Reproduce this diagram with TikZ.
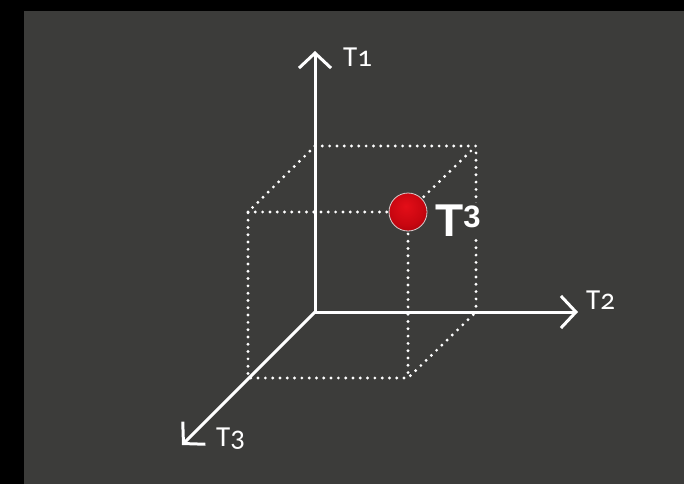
\documentclass[tikz,border=0pt]{standalone}
\usepackage{fontspec}
\setmainfont{Liberation Sans}
\newfontfamily\axisfont[Numbers=OldStyle]{Carlito}
\usetikzlibrary{arrows.meta}
\definecolor{bggray}{RGB}{60,60,58}
\definecolor{ballhi}{RGB}{228,14,24}
\definecolor{ballmid}{RGB}{200,6,16}
\definecolor{balllo}{RGB}{140,0,8}
\definecolor{ballrim}{RGB}{215,205,205}
\pgfdeclareradialshading{redball}{\pgfpoint{-3bp}{8bp}}{color(0bp)=(ballhi); color(22bp)=(ballmid); color(44bp)=(balllo); color(62bp)=(balllo)}
\begin{document}
\begin{tikzpicture}[x=1pt,y=-1pt,
  axisline/.style={white, line width=3pt, -{Straight Barb[length=15pt,width=32pt]}},
  guide/.style={white, line width=3.2pt, line cap=round, dash pattern=on 0pt off 7.3pt},
  axislabel/.style={text=white, font=\axisfont\fontsize{29}{29}\selectfont, anchor=base west, inner sep=0pt},
  ball/.style={circle, minimum size=38pt, inner sep=0pt, draw=ballrim, line width=0.8pt, shading=redball}]
\useasboundingbox (0,0) rectangle (684,484);
\fill[black] (0,0) rectangle (684,484);
\fill[bggray] (24,11) rectangle (684,484);
% coordinates
\coordinate (O) at (315,312);
\coordinate (t1) at (315,51);
\coordinate (t2) at (578,312);
\coordinate (t3) at (182,445);
\coordinate (A) at (315,146);
\coordinate (B) at (476,146);
\coordinate (C) at (476,312);
\coordinate (D) at (248,212);
\coordinate (P) at (408,212);
\coordinate (F) at (408,378);
\coordinate (G) at (248,378);
% dotted box
\draw[guide] (A) -- (B) -- (C);
\draw[guide] (A) -- (D) -- (G) -- (F) -- (C);
\draw[guide] (D) -- (P);
\draw[guide] (P) -- (B);
\draw[guide] (P) -- (F);
% axes
\draw[axisline] (O) -- (t1);
\draw[axisline] (O) -- (t2);
\draw[axisline] (O) -- (t3);
% point
\node[ball] (E) at (P) {};
\node[anchor=base west, inner sep=1pt, fill=bggray, text=white, font=\bfseries\fontsize{46}{46}\selectfont] (lab) at (434,236) {T\raisebox{9pt}{\fontsize{31}{31}\selectfont 3}};
% labels
\node[axislabel] (l1) at (343,67) {T1};
\node[axislabel] (l2) at (586,309) {T2};
\node[axislabel] (l3) at (216,446) {T3};
\end{tikzpicture}
\end{document}
